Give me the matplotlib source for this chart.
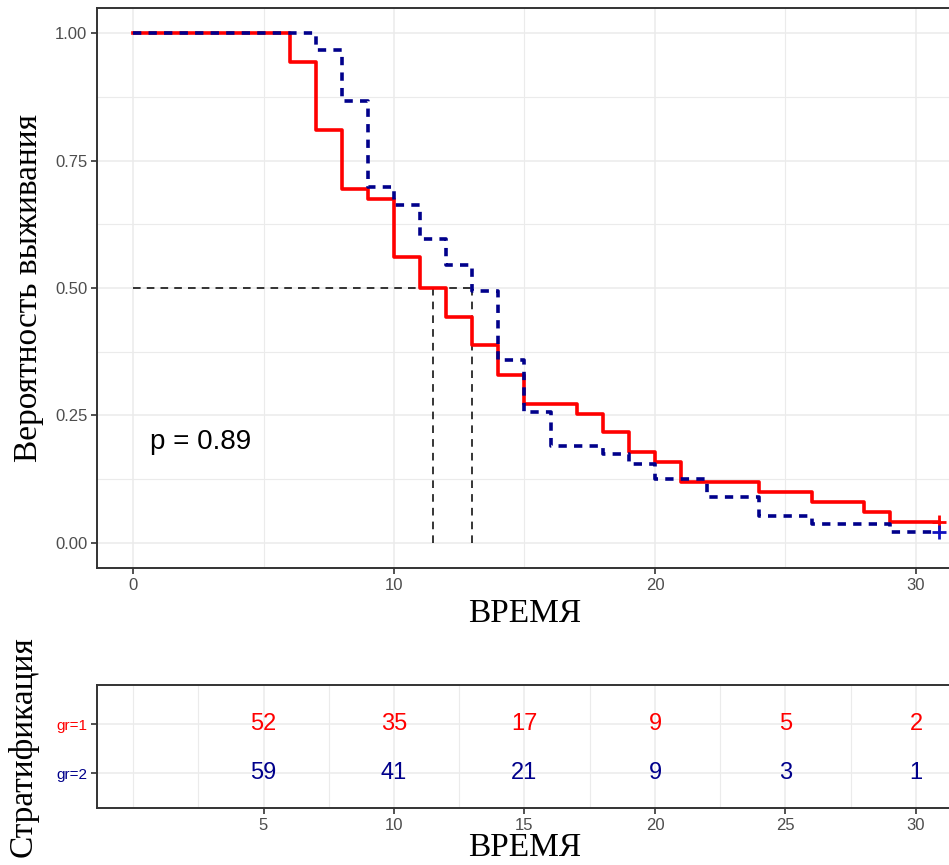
import matplotlib.pyplot as plt
from matplotlib.ticker import MultipleLocator, FixedLocator

# Kaplan-Meier steps
red_times = [0, 6, 7, 8, 9, 10, 11, 12, 13, 14, 15, 17, 18, 19, 20, 21, 24, 26, 28, 29]
red_surv = [1.0, 0.943, 0.811, 0.695, 0.675, 0.561, 0.500, 0.443, 0.389, 0.330,
            0.272, 0.253, 0.217, 0.178, 0.159, 0.119, 0.100, 0.080, 0.060, 0.041]
blue_times = [0, 7, 8, 9, 10, 11, 12, 13, 14, 15, 16, 18, 19, 20, 22, 24, 26, 29]
blue_surv = [1.0, 0.967, 0.867, 0.698, 0.663, 0.596, 0.545, 0.495, 0.359, 0.256,
             0.190, 0.174, 0.154, 0.125, 0.089, 0.053, 0.037, 0.021]
end_time = 30.9

medians = [11.5, 13.0]
p_text = "p = 0.89"

# Numbers at risk
risk_times = [5, 10, 15, 20, 25, 30]
risk_gr1 = [52, 35, 17, 9, 5, 2]
risk_gr2 = [59, 41, 21, 9, 3, 1]
group_labels = ["gr=1", "gr=2"]

RED = "#FF0000"
NAVY = "#00008B"
TICK_COL = "#4D4D4D"
GRID_COL = "#EBEBEB"
SERIF = "Liberation Serif"
SANS = "Liberation Sans"

XLIM = (-1.38, 31.42)


def style_panel(ax):
    """theme_bw-like look: light grid, dark border, gray tick labels."""
    ax.set_facecolor("white")
    ax.grid(True, which="major", color=GRID_COL, lw=1.1, zorder=0)
    ax.grid(True, which="minor", color=GRID_COL, lw=0.8, zorder=0)
    ax.set_axisbelow(True)
    for side in ax.spines.values():
        side.set_color("#333333")
        side.set_linewidth(1.4)
    ax.tick_params(which="major", length=4, width=1.2, color="#333333",
                   labelcolor=TICK_COL, labelsize=12, pad=3)
    ax.tick_params(which="minor", length=0)
    for lab in ax.get_xticklabels() + ax.get_yticklabels():
        lab.set_fontfamily(SANS)


fig = plt.figure(figsize=(9.49, 8.65), dpi=100)

# Survival curves
ax = fig.add_axes([97 / 949, 1 - 568 / 865, 856 / 949, 560 / 865])
ax.set_xlim(*XLIM)
ax.set_ylim(-0.05, 1.05)
ax.xaxis.set_major_locator(MultipleLocator(10))
ax.xaxis.set_minor_locator(MultipleLocator(5))
ax.yaxis.set_major_locator(MultipleLocator(0.25))
ax.yaxis.set_minor_locator(MultipleLocator(0.125))
ax.yaxis.set_major_formatter(plt.FuncFormatter(lambda v, _: f"{v:.2f}"))

ax.step(red_times + [end_time], red_surv + [red_surv[-1]], where="post",
        color=RED, lw=2.6, zorder=3)
ax.step(blue_times + [end_time], blue_surv + [blue_surv[-1]], where="post",
        color=NAVY, lw=2.6, linestyle=(0, (2.3, 2.0)), zorder=4)
ax.plot([end_time], [red_surv[-1]], marker="+", color=RED, ms=10, mew=2, zorder=5)
ax.plot([end_time], [blue_surv[-1]], marker="+", color="#1010C0", ms=10, mew=2, zorder=5)

# median lines
ax.plot([0, max(medians)], [0.5, 0.5], color="black", lw=1.1,
        linestyle=(0, (5, 4)), zorder=2)
for m in medians:
    ax.plot([m, m], [0, 0.5], color="black", lw=1.1, linestyle=(0, (5, 4)), zorder=2)

ax.text(0.65, 0.197, p_text, fontsize=20, family=SANS, ha="left", va="center")
style_panel(ax)
ax.spines["right"].set_visible(False)
ax.set_xlabel("ВРЕМЯ", family=SERIF, fontsize=24, labelpad=4)
ax.set_ylabel("Вероятность выживания", family=SERIF, fontsize=24, labelpad=8)

# Risk table
tab = fig.add_axes([97 / 949, 1 - 808 / 865, 856 / 949, 123 / 865])
tab.set_xlim(*XLIM)
tab.set_ylim(2.714, 0.204)
tab.xaxis.set_major_locator(FixedLocator(risk_times))
tab.xaxis.set_minor_locator(FixedLocator([0, 2.5, 7.5, 12.5, 17.5, 22.5, 27.5]))
tab.set_yticks([1, 2])
tab.set_yticklabels(group_labels)
for t, a, b in zip(risk_times, risk_gr1, risk_gr2):
    tab.text(t, 1, str(a), color=RED, fontsize=17, family=SANS, ha="center", va="center")
    tab.text(t, 2, str(b), color=NAVY, fontsize=17, family=SANS, ha="center", va="center")
style_panel(tab)
tab.spines["right"].set_visible(False)
tab.tick_params(axis="y", labelsize=11)
for lab, col in zip(tab.get_yticklabels(), [RED, NAVY]):
    lab.set_color(col)
tab.set_xlabel("ВРЕМЯ", family=SERIF, fontsize=24, labelpad=0)
tab.set_ylabel("Стратификация", family=SERIF, fontsize=24, labelpad=13)

fig.savefig("out.png", dpi=100)
